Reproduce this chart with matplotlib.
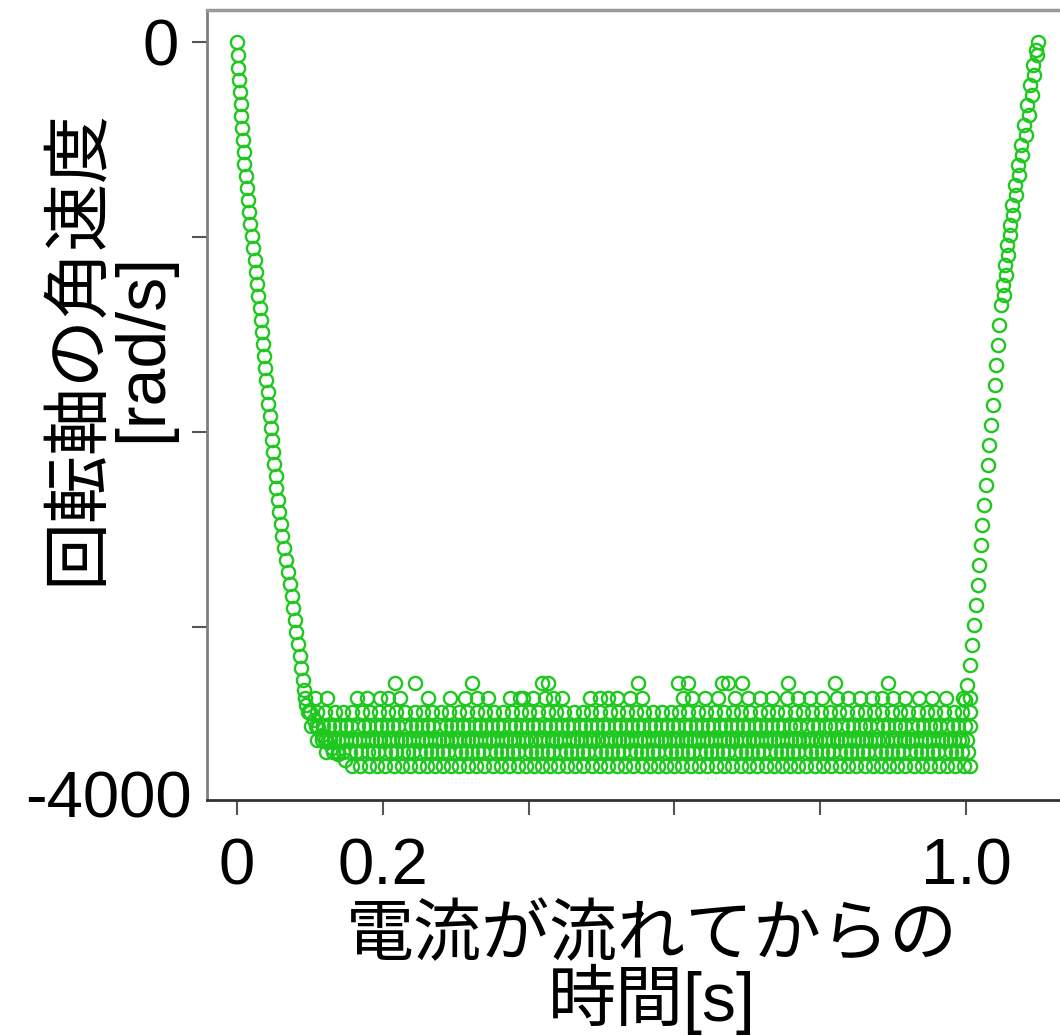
import numpy as np
import matplotlib
matplotlib.use('Agg')
import matplotlib.pyplot as plt

plt.rcParams['font.family'] = ['Liberation Sans', 'Noto Sans CJK JP']

# --- data (time in ms, angular velocity in rad/s) ---
# spin-down right after the current starts
decay_ms = [0, 1, 2, 3, 4, 5, 6, 7, 8, 9, 10, 12, 13, 15, 16, 18, 21, 22, 24, 26,
            27, 29, 31, 33, 34, 36, 37, 39, 40, 42, 43, 45, 47, 48, 49, 51, 53, 54, 56, 58,
            60, 62, 64, 67, 70, 72, 75, 77, 79, 81, 84, 86, 88, 90, 92,
            95, 100, 106, 111, 117, 123, 130, 138, 148]
decay_w = [0, -67, -133, -195, -256, -318, -379, -441, -503, -564, -626, -687, -749, -810,
           -872, -933, -995, -1056, -1118, -1179, -1241, -1303, -1364, -1426, -1487, -1549,
           -1610, -1672, -1733, -1795, -1856, -1918, -1979, -2041, -2102, -2164, -2226,
           -2287, -2349, -2410, -2472, -2533, -2595, -2656, -2718, -2779, -2841, -2902,
           -2964, -3026, -3087, -3149, -3210, -3272, -3323,
           -3400, -3436, -3477, -3513, -3554, -3590, -3620, -3651, -3682]

# recovery after the current stops
rise_ms = [999, 1001, 1005, 1008, 1011, 1014, 1016, 1018, 1021, 1022, 1025, 1027, 1030,
           1032, 1034, 1037, 1040, 1041, 1044, 1045, 1048, 1051, 1053, 1056, 1060, 1063,
           1067, 1071, 1075, 1080, 1084, 1088, 1092, 1096, 1099,
           1097, 1094, 1090, 1086, 1082, 1077, 1073, 1069, 1065, 1061, 1058, 1055, 1052]
rise_w = [-3374, -3297, -3195, -3092, -2990, -2887, -2785, -2682, -2579, -2477, -2374,
          -2272, -2169, -2067, -1964, -1861, -1759, -1656, -1554, -1451, -1349, -1246,
          -1144, -1041, -938, -836, -733, -631, -528, -426, -323, -221, -118, -41, 0,
          -67, -169, -272, -374, -477, -579, -682, -785, -887, -990, -1092, -1195, -1297]

# steady rotation: the sensor gives a few discrete levels
levels = [-3287, -3364, -3436, -3508, -3579, -3641, -3713]
band_a = [217, 244, 322, 418, 427, 550, 605, 619, 665, 673, 693, 756, 820, 893]
band_b = [93, 107, 124, 165, 178, 196, 207, 224, 262, 292, 313, 329, 344, 375, 388, 392,
          406, 422, 433, 446, 484, 498, 509, 521, 539, 556, 612, 624, 642, 660, 683, 701,
          717, 734, 754, 769, 786, 802, 823, 838, 855, 871, 885, 900, 917, 935, 954, 972,
          996, 1006]
band_c = [97, 110, 121, 134, 146, 158, 171, 182, 195, 207, 218, 231, 244, 255, 268, 280,
          291, 304, 316, 329, 340, 352, 365, 377, 389, 401, 413, 426, 438, 449, 462, 474,
          486, 498, 511, 522, 535, 547, 558, 571, 583, 595, 607, 619, 632, 643, 656, 668,
          680, 692, 704, 717, 728, 741, 752, 765, 777, 789, 801, 813, 826, 837, 850, 861,
          874, 885, 898, 910, 921, 934, 946, 958, 970, 983, 995, 1006]
band_d = [102, 109, 118, 126, 133, 141, 150, 157, 166, 174, 181, 190, 197, 206, 214, 221,
          230, 238, 245, 254, 262, 269, 278, 286, 293, 302, 310, 317, 326, 334, 341, 350,
          358, 365, 374, 382, 389, 398, 406, 413, 422, 430, 437, 446, 454, 461, 470, 478,
          485, 494, 502, 509, 518, 526, 533, 542, 550, 557, 566, 574, 581, 590, 598, 605,
          614, 622, 629, 638, 646, 653, 662, 670, 677, 686, 694, 701, 710, 718, 725, 734,
          742, 749, 758, 766, 773, 782, 790, 797, 806, 814, 821, 830, 838, 845, 854, 862,
          869, 878, 886, 893, 902, 910, 917, 926, 934, 941, 950, 958, 965, 974, 982, 989,
          998, 1005]
band_e = [110, 116, 121, 127, 133, 139, 144, 150, 156, 162, 167, 173, 179, 185, 190, 196,
          202, 208, 213, 219, 225, 231, 236, 242, 248, 254, 259, 265, 271, 277, 282, 288,
          294, 300, 305, 311, 317, 323, 328, 334, 340, 346, 351, 357, 363, 369, 374, 380,
          386, 392, 397, 403, 409, 415, 420, 426, 432, 438, 443, 449, 455, 461, 466, 472,
          478, 484, 489, 495, 501, 507, 512, 518, 524, 530, 535, 541, 547, 553, 558, 564,
          570, 576, 581, 587, 593, 599, 604, 610, 616, 622, 627, 633, 639, 645, 650, 656,
          662, 668, 673, 679, 685, 691, 696, 702, 708, 714, 719, 725, 731, 737, 742, 748,
          754, 760, 765, 771, 777, 783, 788, 794, 800, 806, 811, 817, 823, 829, 834, 840,
          846, 852, 857, 863, 869, 875, 880, 886, 892, 898, 903, 909, 915, 921, 926, 932,
          938, 944, 949, 955, 961, 967, 972, 978, 984, 990, 995, 1001]
band_f = [122, 131, 139, 146, 155, 163, 170, 179, 187, 194, 203, 211, 218, 227, 235, 242,
          251, 259, 266, 275, 283, 290, 299, 307, 314, 323, 331, 338, 347, 355, 362, 371,
          379, 386, 395, 403, 410, 419, 427, 434, 443, 451, 458, 467, 475, 482, 491, 499,
          506, 515, 523, 530, 539, 547, 554, 563, 571, 578, 587, 595, 602, 611, 619, 626,
          635, 643, 650, 659, 667, 674, 683, 691, 698, 707, 715, 722, 731, 739, 746, 755,
          763, 770, 779, 787, 794, 803, 811, 818, 827, 835, 842, 851, 859, 866, 875, 883,
          890, 899, 907, 914, 923, 931, 938, 947, 955, 962, 971, 979, 986, 995, 1003]
band_g = [158, 169, 181, 192, 203, 215, 226, 237, 249, 260, 271, 283, 294, 305, 317, 328,
          339, 351, 362, 373, 385, 396, 407, 419, 430, 441, 453, 464, 475, 487, 498, 509,
          521, 532, 543, 555, 566, 577, 589, 600, 611, 623, 634, 645, 657, 668, 679, 691,
          702, 713, 725, 736, 747, 759, 770, 781, 793, 804, 815, 827, 838, 849, 861, 872,
          883, 895, 906, 917, 929, 940, 951, 963, 974, 985, 997, 1006]
bands = [band_a, band_b, band_c, band_d, band_e, band_f, band_g]

xticks = [0, 0.2, 0.4, 0.6, 0.8, 1.0]
xticklabels = ['0', '0.2', '', '', '', '1.0']
yticks = [0, -1000, -2000, -3000]
yticklabels = ['0', '', '', '']

# --- assemble ---
t = list(decay_ms) + list(rise_ms)
w = list(decay_w) + list(rise_w)
for lev, b in zip(levels, bands):
    t += b
    w += [lev] * len(b)
t = np.array(t) / 1000.0
w = np.array(w)

green = '#1ec81e'
fs = 47

fig = plt.figure(figsize=(10.6, 10.36), dpi=100)
ax = fig.add_axes([207 / 1060, 1 - 800 / 1036, 1 - 207 / 1060, 790 / 1036])

ax.plot(t, w, linestyle='none', marker='o', markersize=9.5, markerfacecolor='none',
        markeredgecolor=green, markeredgewidth=1.7, clip_on=False)

ax.set_xlim(-0.0412, 1.129)
ax.set_ylim(-3887, 164)

ax.set_xticks(xticks)
ax.set_xticklabels(xticklabels)
ax.set_yticks(yticks)
ax.set_yticklabels(yticklabels)
ax.tick_params(axis='both', labelsize=fs, length=11, width=1.5, color='#555555')
ax.tick_params(axis='x', pad=16)
ax.tick_params(axis='y', pad=9)

ax.spines['right'].set_visible(False)
ax.spines['top'].set_color('#9a9a9a')
ax.spines['top'].set_linewidth(2.5)
ax.spines['left'].set_color('#808080')
ax.spines['left'].set_linewidth(2)
ax.spines['bottom'].set_color('#333333')
ax.spines['bottom'].set_linewidth(2)

ax.text(-0.0176, 0, '-4000', transform=ax.transAxes, ha='right', va='center', fontsize=fs)

ax.set_xlabel('電流が流れてからの\n時間[s]', fontsize=49, linespacing=0.9)
ax.xaxis.set_label_coords(0.522, -0.133)
ax.set_ylabel('回転軸の角速度\n[rad/s]', fontsize=49, linespacing=1.0)
ax.yaxis.set_label_coords(-0.0375, 0.573)

fig.savefig('out.png', dpi=100)
